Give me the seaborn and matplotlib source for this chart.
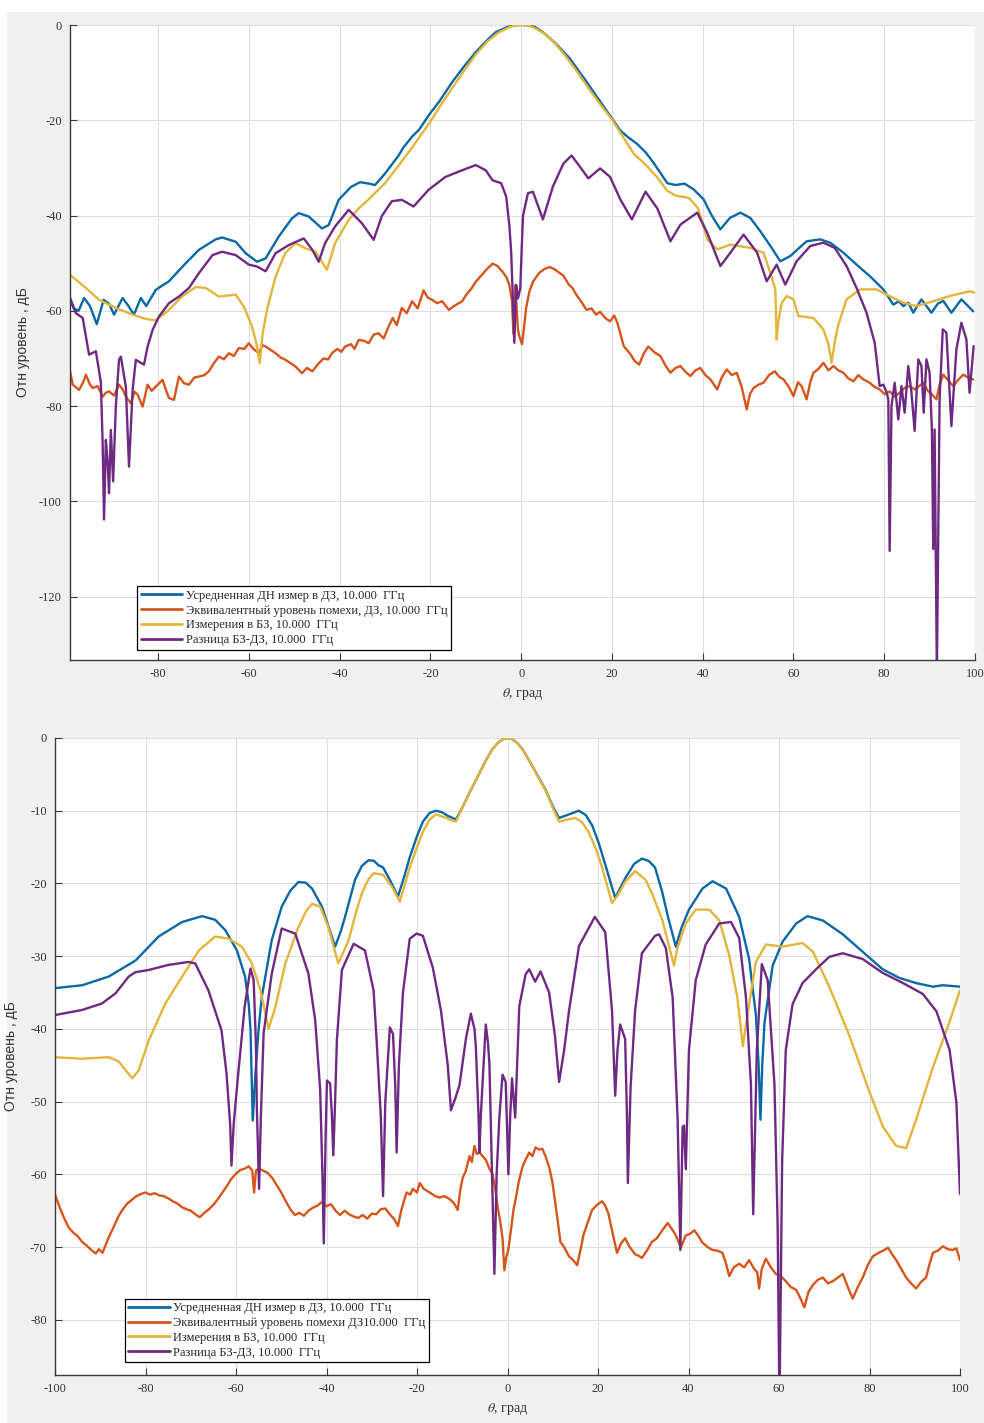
import matplotlib
matplotlib.use("Agg")
import matplotlib.pyplot as plt
import seaborn as sns
import pandas as pd
from matplotlib.patches import Rectangle

# ---------------- data (theta in degrees, level in dB) ----------------
LABELS_TOP = ["Усредненная ДН измер в ДЗ, 10.000  ГГц",
              "Эквивалентный уровень помехи, ДЗ, 10.000  ГГц",
              "Измерения в БЗ, 10.000  ГГц",
              "Разница БЗ-ДЗ, 10.000  ГГц"]
LABELS_BOT = ["Усредненная ДН измер в ДЗ, 10.000  ГГц",
              "Эквивалентный уровень помехи ДЗ10.000  ГГц",
              "Измерения в БЗ, 10.000  ГГц",
              "Разница БЗ-ДЗ, 10.000  ГГц"]

TOP_BLUE = [(-99.5,-57),(-98.5,-59.5),(-97.5,-60),(-96.3,-57.3),(-95,-59),(-93.5,-62.8),(-92,-57.7),(-90.8,-58.5),
            (-89.7,-60.8),(-87.8,-57.3),(-86.5,-59),(-85.3,-60.8),(-83.8,-57.3),(-82.6,-59),(-80.5,-55.6),(-77.6,-53.8),
            (-73.9,-50),(-71,-47.2),(-67.3,-45),(-65.9,-44.6),(-62.9,-45.5),(-60.7,-47.9),(-58.2,-49.7),(-56.3,-49),
            (-53.4,-44.4),(-50.5,-40.6),(-49,-39.5),(-46.8,-40.2),(-43.9,-42.7),(-42.4,-42),(-40.2,-36.7),(-37.5,-34),
            (-35.5,-33),(-33.5,-33.3),(-32.2,-33.6),(-30,-31.2),(-27,-27.4),(-26,-25.8),(-24,-23.4),(-22.5,-22),
            (-20.4,-19),(-18,-16),(-15.2,-12),(-12.5,-8.6),(-10,-5.7),(-7.5,-3.2),(-5.6,-1.5),(-3,-0.4),(-1.3,-0.05),
            (0,0),(1.3,-0.05),
            (3,-0.4),(4.8,-1.5),(7.5,-3.8),(10.7,-7),(12.5,-9.4),(14.4,-11.9),(16.5,-14.8),(18.9,-18.1),(20,-19.6),
            (21.9,-22.2),(23.5,-23.5),(25.6,-25),(27.5,-26.8),(29.3,-29.1),(31,-31.5),(32.2,-33.2),(34,-33.6),
            (36,-33.3),(38,-34.5),(40.2,-36.6),(42,-40),(43.9,-42.9),(46,-40.5),(48.3,-39.4),(50.5,-40.5),
            (52.7,-43.3),(55,-46.5),(57.1,-49.6),(59.3,-48.5),(62.9,-45.4),(65.9,-45),(68.1,-45.7),(71,-47.8),
            (73.9,-50.3),(76.8,-52.7),(79.8,-55.5),(82,-58.7),(83.2,-58),(84.2,-59),(85.3,-58.3),(86.4,-60.4),
            (88.2,-57.6),(90.4,-60.4),(91.8,-58.5),(93,-57.9),(94.8,-60.4),(97,-57.6),(99.6,-60.1)]

TOP_ORANGE = [(-99.6,-71.7),(-98.8,-75.5),(-97.4,-76.6),(-96.5,-75),(-95.9,-73.4),(-95,-75.5),(-94.4,-76.2),(-93.3,-75.8),
              (-92.2,-78),(-91.5,-77.2),(-90.8,-76.9),(-89.7,-77.8),(-88.6,-75.5),(-87.8,-76.5),(-87.1,-78),(-86,-79.4),
              (-85.2,-77),(-84.5,-77.6),(-83.4,-80.1),(-82.3,-75.5),(-81.4,-76.8),(-80.5,-75.9),(-79,-74.5),(-78.3,-76.5),
              (-77.6,-78.3),(-76.5,-78.7),(-75.4,-73.8),(-74.3,-75.2),(-73.2,-75.5),(-72,-74),(-71,-73.8),(-69.8,-73.5),
              (-68.8,-72.7),(-67.7,-71),(-66.6,-69.6),(-65.5,-70.2),(-64.4,-68.9),(-63.3,-69.5),(-62.2,-67.8),(-61,-68),
              (-60,-66.8),(-59,-68),(-57.8,-68.9),(-57,-67.2),(-56.3,-67.5),(-55.2,-68.2),(-54.1,-68.9),(-53,-69.8),
              (-51.9,-70.3),(-50.8,-71),(-49.7,-71.7),(-48.3,-73.1),(-47.2,-72),(-46,-72.7),(-44.6,-71),(-43.5,-70),
              (-42.5,-70.2),(-41.7,-68.9),(-40.5,-68),(-39.6,-68.6),(-38.8,-67.5),(-37.5,-67),(-36.7,-68),(-35.8,-66.1),
              (-34.6,-66.3),(-33.6,-66.8),(-32.5,-65),(-31.4,-64.7),(-30.3,-65.8),(-29.2,-63.3),(-28.3,-61.5),(-27.4,-63),
              (-26.3,-59.4),(-25.2,-60.5),(-24,-58),(-22.8,-59.5),(-21.5,-55.7),(-20.6,-57.2),(-19.6,-57.7),(-18.5,-58.4),
              (-17.4,-58),(-15.9,-59.8),(-14.8,-59),(-13,-58),(-12,-56.5),(-11,-55.4),(-10,-53.9),(-8.8,-52.6),
              (-7.5,-51.2),(-6.3,-50.1),(-5.2,-50.6),(-4.1,-51.8),(-3.2,-53),(-2.6,-54.6),(-2,-58),(-1.7,-64.9),
              (-1.3,-54.6),(-0.7,-64),(-0.4,-65.3),(0.2,-67),(0.7,-63),(1.1,-59.4),(1.8,-56),(2.6,-53.9),(4,-52),
              (5.2,-51.2),(6.3,-50.8),(7.4,-51.3),(8.4,-52),(9.3,-52.6),(10.5,-54.5),(11.3,-55.2),(12.2,-56.7),
              (13.2,-58),(14.4,-59.8),(15.5,-59.5),(16.5,-60.8),(17.4,-60.2),(18.5,-61.5),(19.6,-62.2),(20.5,-61),
              (21.2,-62.5),(22.6,-67.4),(24,-69),(25,-70.5),(26,-71.3),(27,-69),(28,-67.5),(28.8,-68.2),(29.5,-68.8),
              (30.7,-69.5),(31.8,-71.5),(32.9,-73),(34,-72),(35.1,-71.6),(36.2,-72.8),(37.3,-73.7),(38.4,-72.5),
              (39.5,-72),(40.6,-73.5),(41.7,-74.4),(42.5,-75.5),(43.2,-76.5),(44.2,-74),(45.3,-72.3),(46.4,-73.5),
              (47.5,-73),(48.6,-76),(49.7,-80.7),(50.4,-77.5),(51.2,-76.2),(52.3,-75.5),(53.4,-75.1),(54.6,-73.5),
              (55.9,-72.7),(56.8,-73.8),(57.8,-74.4),(59,-76),(60,-77.9),(61,-75),(61.8,-75.8),(62.9,-78.6),
              (63.7,-75),(64.4,-73),(65.5,-72.2),(66.6,-70.9),(67.7,-72.5),(68.8,-71.6),(69.9,-72.5),(71,-73),
              (72.1,-74.2),(73.2,-74.8),(74.3,-73.5),(75.4,-74.4),(76.8,-75.1),(77.9,-76),(79,-76.5),(80.1,-77.5),
              (81.2,-76.9),(82.3,-78),(83.4,-77.2),(84.5,-76.2),(85.6,-75.8),(86.7,-76.5),(87.7,-75.8),(88.6,-75.1),
              (89.6,-76.8),(90.5,-77.5),(91.5,-78.6),(92.2,-75.5),(93,-73.4),(94.1,-74.6),(95.2,-75.8),(96.3,-74.5),
              (97.4,-73.4),(98.5,-74),(99.6,-74.4)]

TOP_YELLOW = [(-99.5,-52.4),(-95.9,-55.2),(-93,-57.7),(-89.3,-59.4),(-85.6,-60.8),(-82.7,-61.7),(-80.5,-62),
              (-77.6,-59.8),(-74.7,-57),(-71.7,-55),(-69.5,-55.2),(-66.6,-57),(-62.9,-56.6),(-61.1,-59.1),
              (-59.3,-63.3),(-58.3,-67),(-57.6,-71),(-57,-65),(-56,-59.8),(-54.1,-52.8),(-52,-47.9),(-49.7,-45.8),
              (-47.5,-46.9),(-45.3,-47.6),(-43.9,-49.7),(-42.8,-51.4),(-41,-45.8),(-38,-40.9),(-35.8,-38.5),
              (-33.7,-36.7),(-30,-33.2),(-27,-29.5),(-24,-25.7),(-20,-20.3),(-17.5,-16.5),(-15,-13),(-12.5,-9.5),
              (-10,-6.2),(-7.5,-3.5),(-5,-1.6),(-2.5,-0.4),(-1.2,-0.05),(0,0),(1.2,-0.05),(2.5,-0.4),(5,-1.7),
              (7.5,-3.9),(10,-6.8),(12.5,-10),
              (15,-13.5),(18.1,-17.5),(20,-19.8),(22,-22.8),(24.8,-27),(27.6,-29.5),(30,-32),(32.2,-34.8),(34,-35.8),
              (37,-36.3),(39,-38.5),(41,-45),(43.2,-47.1),(46.1,-46.1),(50.5,-46.8),(53.4,-47.8),(54.9,-52),(56,-55.5),
              (56.3,-66),(56.7,-62),(57.4,-58.4),(58.5,-56.9),(60,-57.6),(61.1,-61.1),(64.4,-61.5),(66.6,-63.9),
              (67.7,-67),(68.4,-70.9),(69.2,-66),(69.8,-63.2),(71.7,-57.6),(74.7,-55.5),(78.3,-55.5),(81.2,-56.9),
              (84.2,-58.3),(87.1,-59),(90.8,-58),(94.4,-56.9),(98.8,-55.9),(100,-56.2)]

TOP_PURPLE = [(-99.6,-57.3),(-98.1,-60.5),(-96.6,-61.5),(-95.2,-69.2),(-93.7,-68.5),(-92.6,-75),(-92.2,-88),
              (-91.9,-103.8),(-91.5,-87.1),(-91.1,-92),(-90.8,-98.3),(-90.4,-85),(-89.9,-95.8),(-89.3,-80),
              (-88.6,-70.3),(-88.2,-69.6),(-87.1,-75.9),(-86.4,-92.7),(-85.6,-76.6),(-84.9,-70.3),(-83.1,-71.3),
              (-82.3,-67.5),(-81.2,-64),(-79.8,-61.2),(-77.6,-58.4),(-75.4,-57),(-73.2,-55.2),(-71,-52.1),(-68,-48.3),
              (-65.9,-47.6),(-62.9,-48.3),(-60,-50.3),(-58.2,-50.7),(-56.3,-51.7),(-54.1,-47.9),(-51.2,-46.2),
              (-47.9,-44.8),(-46,-47.2),(-44.6,-49.7),(-43.2,-45.8),(-41,-42.3),(-38,-38.8),(-35.1,-41.6),
              (-32.5,-45.1),(-30.7,-40.1),(-28.5,-37),(-26.3,-36.7),(-23.7,-38.1),(-20.4,-34.6),(-16.7,-31.9),
              (-13,-30.5),(-10,-29.4),(-7.8,-30.5),(-6.3,-32.6),(-4.4,-33.2),(-3.3,-36),(-2.6,-42),(-2.2,-47.7),
              (-1.8,-58),(-1.5,-66.7),(-1.1,-54.6),(-0.7,-57.4),(-0.2,-55.3),(0.4,-40.1),(1.5,-35.3),(2.6,-35),
              (4.8,-40.8),(7,-33.9),(9.3,-29.1),(11.1,-27.4),(13,-29.8),(14.8,-32.2),(17.4,-30.1),(19.6,-31.9),
              (21.9,-36.7),(24.4,-40.8),(27.4,-35),(30,-38.5),(32.9,-45.4),(35.1,-41.9),(38.8,-39.4),(41,-43.6),
              (43.9,-50.6),(46.1,-47.8),(49,-44),(52,-47.8),(54.1,-53.8),(56.3,-50.3),(58.2,-54.5),(60.7,-49.6),
              (63.7,-46.4),(66.6,-45.7),(69.1,-46.8),(71.7,-50.6),(73.9,-55.2),(76.1,-60.4),(77.9,-66.7),(79,-75.8),
              (79.8,-75.5),(80.5,-77),(80.9,-78.6),(81.2,-110.4),(81.6,-80),(82.3,-75.1),(83.1,-82.8),(83.8,-75.8),
              (84.5,-81.4),(85.3,-71.6),(86,-77.2),(86.7,-85.2),(87.5,-70.2),(88.2,-71.6),(88.7,-81.4),(89.3,-70.2),
              (90,-73),(90.5,-85),(90.8,-110),(91.1,-84.9),(91.6,-136),(92.2,-78.6),(92.9,-63.9),(93.7,-64.6),
              (94.8,-84.2),(95.9,-68.1),(97,-62.5),(98.1,-66),(98.8,-77.2),(99.7,-67.4)]

BOT_BLUE = [(-100,-34.4),(-94,-34),(-88.1,-32.8),(-82.2,-30.6),(-77.1,-27.3),(-71.9,-25.3),(-67.5,-24.5),
            (-64.6,-25),(-62.4,-26.4),(-59.8,-29.2),(-58,-32.8),(-57.2,-36.5),(-56.8,-40),(-56.3,-52.6),
            (-55.7,-46.1),(-55,-40),(-54.3,-35.6),(-52.1,-27.8),(-49.9,-23.2),(-48,-21),(-46.2,-19.8),(-44.6,-19.9),
            (-43.2,-20.7),(-41,-23.2),(-39.5,-26),(-38.1,-28.7),(-36.8,-26.5),(-35.9,-24.6),(-33.7,-19.5),
            (-32.2,-17.6),(-30.7,-16.8),(-29.5,-16.9),
            (-28.5,-17.5),(-27.5,-17.8),(-26,-19.5),(-24.2,-21.8),(-22.8,-19),(-21.6,-16.4),(-20,-13.5),(-18.7,-11.5),
            (-17.2,-10.3),(-15.8,-10),(-14.5,-10.2),(-13.2,-10.7),(-11.4,-11.2),(-10,-9.6),(-8.4,-7.5),(-6.5,-5.2),
            (-4.8,-3.1),(-3.5,-1.7),(-2.2,-0.7),(-1,-0.15),(0,0),(1,-0.15),(2.2,-0.7),(3.5,-1.7),
            (4.8,-3.1),(6.5,-5),(8.4,-7.1),(10,-9.4),(11.4,-11),(13.6,-10.5),(15.8,-10),(17.3,-10.6),(18.7,-12),
            (20.2,-14.5),(21.6,-17.4),(23.8,-22),
            (26,-19.3),(28,-17.3),(29.7,-16.6),(31.2,-16.9),(32.6,-17.8),(34.2,-21.2),(35.5,-24.7),(37.2,-28.7),
            (38.5,-26),(40.1,-23.6),
            (43.1,-20.7),(45.3,-19.7),(48.3,-20.7),(51.2,-24.6),(53.4,-30.4),(54.9,-38.1),(55.5,-45),
            (55.9,-52.5),(56.3,-45),(56.8,-39.1),(58.6,-31.3),(60.8,-28),(63.8,-25.5),(66.3,-24.5),(69.7,-25.1),
            (74.1,-27),(78.5,-29.4),(82.9,-31.8),(86.6,-33),(90.3,-33.7),(94,-34.2),(96.2,-34),(100,-34.2)]

BOT_ORANGE = [(-100,-62.8),(-99,-64.5),(-98,-66),(-97,-67.3),(-96,-68),(-95,-68.5),(-94,-69.3),(-93,-69.8),
              (-92,-70.4),(-91,-70.9),(-90.3,-70.3),(-89.5,-70.8),(-89,-70),(-88,-68.5),(-87,-67.2),(-86,-65.8),
              (-85,-64.8),(-84,-64),(-83,-63.5),(-82,-63),(-81,-62.7),(-80,-62.5),(-79,-62.8),(-78,-62.6),
              (-77,-62.9),(-76,-63),(-75,-63.3),(-74,-63.7),(-73,-64),(-72,-64.5),(-71,-64.8),(-70,-65),(-69,-65.5),
              (-68,-65.9),(-67,-65.3),(-66,-64.8),(-65,-64.2),(-64,-63.4),(-63,-62.5),(-62,-61.6),(-61,-60.6),
              (-60,-59.9),(-59,-59.4),(-58,-59.2),(-57.2,-58.9),(-56.4,-59.5),(-56,-62.5),(-55.6,-59.5),(-55,-59.2),
              (-54,-59.5),(-53,-59.8),(-52,-60.5),(-51,-61.5),(-50,-62.5),(-49,-63.7),(-48,-64.8),(-47,-65.6),
              (-46,-65.3),(-45,-65.7),(-44,-65),(-43,-64.6),(-42,-64.3),(-41,-63.8),(-40,-64.4),(-39,-64.1),
              (-38,-65),(-37,-65.6),(-36,-65),(-35,-65.5),(-34,-65.8),(-33,-66),(-32,-65.6),(-31,-66.1),(-30,-65.4),
              (-29,-65.5),(-28,-64.8),(-27,-64.7),(-26,-65.5),(-25,-66.2),(-24.2,-67.1),(-23.5,-65),(-22.8,-63.5),
              (-22.3,-62.5),(-21.5,-62.8),(-20.9,-62),(-20,-62.5),(-19.4,-61.2),(-18.5,-62),(-17.2,-62.5),(-16,-63),
              (-15,-63.2),(-14,-63),(-12.8,-63.4),(-11.8,-64),(-11,-64.9),(-10.4,-62),(-9.9,-60.5),(-9.2,-59.5),
              (-8.4,-57.5),(-7.9,-58.3),(-7.3,-56.1),(-6.8,-57.2),(-6.2,-57),(-5.5,-57.5),(-4.8,-58),(-4,-59.2),
              (-3.3,-60),(-2.7,-62),(-2.2,-64.4),(-1.6,-66.5),(-1.1,-68.8),(-0.7,-73.2),(-0.3,-71.5),(0.2,-70.3),
              (0.8,-67.5),(1.3,-65),(1.8,-63.4),(2.5,-61),(3.3,-59),(4,-58),(4.8,-57),(5.5,-57.5),(6.2,-56.3),
              (7,-56.6),(7.7,-56.5),(8.4,-57.5),(9.2,-59),(9.9,-61),(10.8,-65),(11.7,-69.3),(12.5,-70),
              (13.6,-71.3),(14.5,-71.8),(15.4,-72.5),(16.1,-70.5),(16.8,-68.3),(17.8,-66.5),(18.7,-64.9),
              (19.8,-64.2),(20.9,-63.7),(21.6,-64.3),(22.3,-65.4),(23.2,-68),(24.2,-70.8),(25.1,-69.5),(26,-68.8),
              (27,-70),(28.2,-71),(29,-71.2),(29.7,-71.5),(30.8,-70.5),(31.9,-69.3),(33,-68.8),(34.1,-67.8),
              (35.4,-66.7),(36.3,-67.5),(37.2,-68.4),(38.3,-70.1),(39.4,-68.4),(40.3,-68.2),(41.3,-67.7),
              (42.2,-68.5),(43.1,-69.4),(44.2,-70),(45.3,-70.4),(46.4,-70.5),(47.5,-70.8),(48.3,-72.3),(49,-74),
              (50,-72.8),(51.2,-72.3),(52.3,-72.8),(53.4,-71.8),(54.5,-73),(55.2,-73.5),(55.6,-75.7),(56.2,-73),
              (57.1,-71.6),(58.2,-72.8),(59.3,-73.7),(60.4,-74),(61.5,-74.7),(62.6,-75.5),(63.8,-75.9),(64.7,-77),
              (65.6,-78.3),(66.5,-76.2),(67.5,-75.2),(68.6,-74.5),(69.7,-74.2),(70.8,-75),(71.9,-74.7),(73,-74.2),
              (74.1,-73.7),(75.2,-75.5),(76.3,-77.1),(77.4,-75.5),(78.5,-74.2),(79.6,-72.5),(80.7,-71.3),(82,-70.8),
              (83,-70.5),(84.1,-70.1),(85,-71),(85.9,-71.8),(87,-73),(88.1,-74.2),(89.2,-75),(90.3,-75.7),
              (91.4,-74.8),(92.5,-74.2),(93.2,-72.5),(94,-70.8),(95.1,-70.5),(96.2,-69.9),(97.3,-70.3),(98.4,-70.4),
              (99.2,-70.2),(100,-71.8)]

BOT_YELLOW = [(-100,-43.9),(-94,-44.1),(-88.1,-43.9),(-85.9,-44.5),(-84.4,-45.7),(-82.9,-46.8),(-81.5,-45.7),
              (-79.3,-41.6),(-75.6,-36.5),(-71.9,-32.8),(-68.2,-29.2),(-64.6,-27.3),(-61.6,-27.6),(-58.7,-28.7),
              (-56.5,-31),(-54.6,-34.7),(-52.8,-40),(-51.3,-37),(-49.1,-31),(-46.2,-26),(-44.5,-23.8),(-43.2,-22.8),
              (-41.4,-23.2),(-39.6,-26),(-37.4,-31),(-35.1,-27.8),(-33.5,-24),(-32.2,-21.4),(-30.8,-19.5),
              (-29.6,-18.6),(-27.5,-18.8),(-25.5,-20.5),(-23.8,-22.5),(-21.6,-17.8),(-20,-15),(-18.7,-12.9),
              (-17.2,-11.2),(-15.8,-10.5),(-13.5,-11),(-11.4,-11.5),(-10,-9.6),(-8.4,-7.5),(-6.5,-5.2),
              (-4.8,-3.1),(-3.5,-1.7),(-2.2,-0.7),(-1,-0.15),(0,0),(1,-0.15),(2.2,-0.7),(3.5,-1.7),(4.8,-3.1),
              (6.5,-5.1),(8.4,-7.2),(10,-9.6),(11.4,-11.5),(13.3,-11.2),(15,-11),(16.5,-11.6),(17.9,-12.9),
              (19.5,-15.2),(20.9,-17.8),(23.1,-22.7),(24.5,-21.5),(26,-19.8),(28.2,-18.3),(30.5,-19.5),(31.9,-21.3),
              (34.2,-25),(36.8,-31.3),
              (37.5,-29),(39.4,-25.5),(41.6,-23.6),(44.6,-23.6),(46.8,-25.1),(49,-29.9),(50.8,-35.7),(52,-42.4),
              (53.4,-36.6),(54.9,-30.8),(57.1,-28.4),(60.8,-28.7),(65.2,-28.2),(67.5,-29.4),(71.1,-34.2),(75.6,-41),
              (80,-48.7),(83,-53.5),(85.9,-56.1),(88.1,-56.4),(90.3,-52.5),(94,-45.3),(97.7,-39),(100,-34.7)]

BOT_PURPLE = [(-100,-38.1),(-94,-37.4),(-89.6,-36.5),(-86.6,-35.1),(-83.7,-32.8),(-82.2,-32.2),(-79.3,-31.9),
              (-74.9,-31.2),(-70.5,-30.8),(-69,-31),(-66.1,-34.7),(-63.2,-40.2),(-62.1,-46.1),(-61.3,-53),(-61,-58.8),
              (-60.5,-53),(-59.5,-46.1),(-58.1,-37),(-56.8,-31.7),(-56.1,-33.3),(-55.6,-42),(-55.4,-50.7),(-54.9,-62),
              (-54.5,-52),(-53.9,-40.6),(-52.1,-32.4),(-49.9,-26.2),(-46.9,-26.9),(-44,-32.4),(-42.5,-38.8),
              (-41.4,-48.4),(-40.9,-60),(-40.6,-69.5),(-40.2,-55),(-39.9,-47.1),(-39.2,-47.5),(-38.8,-52),
              (-38.5,-57.4),(-38.1,-50),(-37.7,-41.5),(-36.6,-31.9),(-34,-28.3),(-31.5,-29.2),(-29.6,-34.7),
              (-28.9,-41.8),(-28,-52),(-27.5,-63),(-27,-50),(-26,-39.8),(-25.3,-40.7),(-24.8,-48),(-24.5,-57),
              (-24,-45),(-23.1,-35),(-21.6,-27.6),(-20.1,-26.9),(-18.7,-27.2),(-16.5,-31.6),(-14.7,-37.5),(-13.2,-45),
              (-12.5,-51.2),(-11.5,-49.5),(-10.6,-47.7),(-9.2,-41.4),(-8.1,-37.9),(-7.3,-40),(-7,-42.4),(-6.4,-52),
              (-6.2,-57),(-5.9,-52),(-5.5,-47.3),(-4.8,-39.4),(-4.3,-42),(-4,-44.8),(-3.5,-58),(-2.9,-73.7),
              (-2.4,-60),(-1.8,-52.2),(-1.1,-46.3),(-0.4,-47.3),(0.2,-60),(0.6,-52),(1,-46.8),(1.7,-52.2),
              (2.6,-36.9),(4,-32.5),(4.8,-31.8),(6.1,-33.5),(7.3,-32.1),(9.2,-35),(10.5,-41),(11.4,-47.3),
              (12.5,-43),(13.6,-37.5),(15.8,-28.6),(17.9,-26.2),(19.3,-24.6),(21.6,-26.7),(23.1,-37.5),(23.8,-49.2),
              (24.3,-43),(24.9,-39.4),(26,-41.4),(26.4,-52),(26.6,-61.2),(27.2,-48),(28.2,-37.5),(29.7,-29.6),
              (32.6,-27.2),(33.5,-27),(35,-28.9),(36.5,-35.7),(37.6,-52.5),(38.2,-70.4),(38.7,-53.5),(39,-53.3),
              (39.4,-59.3),(40.1,-42.9),(41.6,-33.3),(43.8,-28.4),(46.8,-25.5),(49.4,-25.3),(51.2,-27.5),
              (52.7,-35.7),(53.8,-47.7),(54.3,-65.5),(55.1,-42.9),(56.2,-31.1),(57.5,-33.3),(59,-47.7),(59.7,-67),
              (60.1,-92),(60.7,-58),(61.5,-42.9),(63,-36.6),(65.2,-33.7),(68.2,-31.8),(71.1,-30.1),(74.1,-29.6),
              (78.5,-30.4),(82.9,-32.3),(87.4,-33.7),(91.8,-35.2),(94.8,-37.6),(97.7,-42.9),(99.2,-50.1),(100,-62.7)]

TOP_XTICKS = [-80, -60, -40, -20, 0, 20, 40, 60, 80, 100]
TOP_YTICKS = [0, -20, -40, -60, -80, -100, -120]
BOT_XTICKS = [-100, -80, -60, -40, -20, 0, 20, 40, 60, 80, 100]
BOT_YTICKS = [0, -10, -20, -30, -40, -50, -60, -70, -80]

COLORS = ["#0a68a6", "#d4561c", "#e3b53a", "#6e2a82"]

# ---------------- style ----------------
sns.set_theme(style="whitegrid")
plt.rcParams["font.family"] = ["Liberation Serif", "DejaVu Serif"]
plt.rcParams["mathtext.fontset"] = "stix"
plt.rcParams["axes.unicode_minus"] = False

fig = plt.figure(figsize=(9.84, 14.23), dpi=100, facecolor="white")
fig.patches.append(Rectangle((7 / 984, 0), 1, 1 - 12 / 1423, transform=fig.transFigure,
                             facecolor="#f0f0f0", edgecolor="none", zorder=-10))

ax_top = fig.add_axes([70 / 984, 1 - 660 / 1423, 905 / 984, 635 / 1423])
ax_bot = fig.add_axes([55 / 984, 1 - 1375 / 1423, 905 / 984, 637 / 1423])


def draw(ax, series, labels, xlim, ylim, xticks, yticks, leg_anchor, ylab_x):
    ax.set_facecolor("white")
    for data, lab, col in zip(series, labels, COLORS):
        df = pd.DataFrame(data, columns=["theta", "level"])
        sns.lineplot(data=df, x="theta", y="level", ax=ax, color=col, linewidth=1.7,
                     label=lab, estimator=None, sort=False)
    ax.set_xlim(*xlim)
    ax.set_ylim(*ylim)
    ax.set_xticks(xticks)
    ax.set_yticks(yticks)
    ax.grid(True, color="#dedede", linewidth=0.8)
    for s in ["top", "right"]:
        ax.spines[s].set_visible(False)
    for s in ["left", "bottom"]:
        ax.spines[s].set_color("#3a3a3a")
        ax.spines[s].set_linewidth(1.0)
    ax.tick_params(direction="in", length=5, width=0.8, colors="#3a3a3a",
                   labelsize=9, labelcolor="#333333", left=True, bottom=True, pad=6)
    ax.set_xlabel(r"$\theta$, град", fontsize=10, color="#333333", labelpad=4)
    ax.set_ylabel("Отн уровень , дБ", fontsize=10, color="#333333",
                  family=["Liberation Sans", "DejaVu Sans"])
    ax.yaxis.set_label_coords(ylab_x, 0.5)
    leg = ax.legend(loc="lower left", bbox_to_anchor=leg_anchor, frameon=True, fancybox=False,
                    edgecolor="black", framealpha=1, fontsize=9, handlelength=3.3,
                    labelspacing=0.22, borderpad=0.3, handletextpad=0.3, borderaxespad=0)
    leg.get_frame().set_linewidth(0.9)
    for line in leg.get_lines():
        line.set_linewidth(2.0)


draw(ax_top, [TOP_BLUE, TOP_ORANGE, TOP_YELLOW, TOP_PURPLE], LABELS_TOP,
     (-99.4, 100), (-133.3, 0), TOP_XTICKS, TOP_YTICKS, (0.074, 0.016), -0.044)
draw(ax_bot, [BOT_BLUE, BOT_ORANGE, BOT_YELLOW, BOT_PURPLE], LABELS_BOT,
     (-100, 100), (-87.6, 0), BOT_XTICKS, BOT_YTICKS, (0.077, 0.02), -0.041)

fig.savefig("out.png", dpi=100, facecolor=fig.get_facecolor())
